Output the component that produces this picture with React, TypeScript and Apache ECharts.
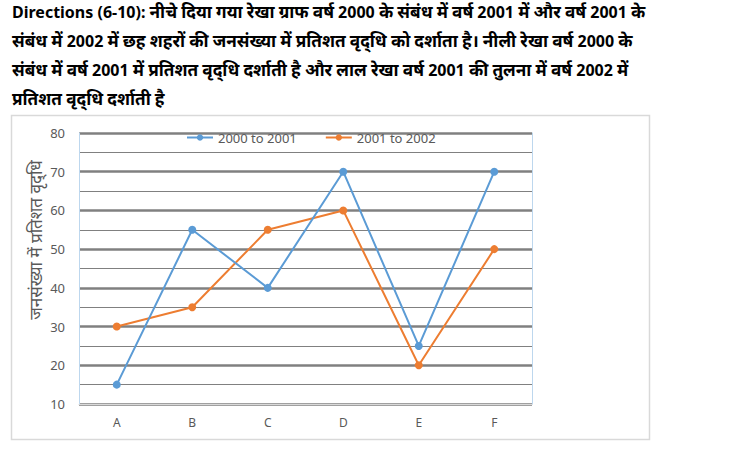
import React, { useEffect, useRef } from "react";
import * as echarts from "echarts";

const categories = ["A", "B", "C", "D", "E", "F"];
const series2000to2001 = [15, 55, 40, 70, 25, 70];
const series2001to2002 = [30, 35, 55, 60, 20, 50];
const seriesNames = ["2000 to 2001", "2001 to 2002"];
const headerLines = [
  "Directions (6-10): नीचे दिया गया रेखा ग्राफ वर्ष 2000 के संबंध में वर्ष 2001 में और वर्ष 2001 के",
  "संबंध में 2002 में छह शहरों की जनसंख्या में प्रतिशत वृद्‌धि को दर्शाता है। नीली रेखा वर्ष 2000 के",
  "संबंध में वर्ष 2001 में प्रतिशत वृद्‌धि दर्शाती है और लाल रेखा वर्ष 2001 की तुलना में वर्ष 2002 में",
  "प्रतिशत वृद्‌धि दर्शाती है",
];
const yAxisTitle = "जनसंख्या में प्रतिशत वृद्‌धि";

function toRich(line: string): string {
  const parts = line.match(/[\x00-\x7F]+|[^\x00-\x7F]+/g) || [];
  return parts
    .map((p) => (/^[\x00-\x7F]+$/.test(p) ? `{lat|${p}}` : `{dev|${p}}`))
    .join("");
}

export default function App() {
  const ref = useRef<HTMLDivElement>(null);
  useEffect(() => {
    document.body.style.margin = "0";
    const chart = echarts.init(ref.current!, null, { renderer: "svg" });
    const font = "'Noto Sans', 'DejaVu Sans', sans-serif";
    chart.setOption({
      animation: false,
      backgroundColor: "#ffffff",
      textStyle: { fontFamily: font },
      graphic: [
        {
          type: "rect",
          shape: { x: 11.5, y: 115.5, width: 638, height: 324 },
          style: { fill: "none", stroke: "#d9d9d9", lineWidth: 1.5 },
          silent: true,
        },
        ...headerLines.map((t, i) => ({
          type: "text",
          left: 12,
          top: 3 + i * 29,
          style: {
            text: toRich(t),
            fill: "#000000",
            rich: {
              lat: { fontFamily: font, fontWeight: "bold", fontSize: 16, fill: "#000" },
              dev: { fontFamily: font, fontWeight: "bold", fontSize: 17.2, fill: "#000" },
            },
          },
        })),
        {
          type: "text",
          x: 35,
          y: 240,
          rotation: Math.PI / 2,
          style: {
            text: yAxisTitle,
            align: "center",
            verticalAlign: "middle",
            fill: "#595959",
            font: `17px ${font}`,
          },
        },
      ],
      legend: {
        top: 126,
        left: 181,
        itemGap: 28,
        itemWidth: 26,
        itemHeight: 8,
        textStyle: { color: "#595959", fontSize: 13, fontFamily: font },
        data: seriesNames,
      },
      grid: { left: 79, top: 133, right: 214, bottom: 52, containLabel: false },
      xAxis: {
        type: "category",
        data: categories,
        boundaryGap: true,
        axisLine: { show: true, lineStyle: { color: "#d9d9d9", width: 1 } },
        axisTick: { show: false },
        axisLabel: { color: "#595959", fontSize: 12, margin: 12, fontFamily: font },
      },
      yAxis: [
        {
          type: "value",
          min: 10,
          max: 80,
          interval: 10,
          axisLine: { show: true, lineStyle: { color: "#bdd7ee", width: 1 } },
          axisTick: { show: false },
          axisLabel: { color: "#595959", fontSize: 13, margin: 14, fontFamily: font },
          splitLine: { show: true, lineStyle: { color: "#808080", width: 2.5 } },
        },
        {
          type: "value",
          min: 10,
          max: 80,
          interval: 5,
          position: "right",
          axisLine: { show: true, lineStyle: { color: "#bdd7ee", width: 1 } },
          axisTick: { show: false },
          axisLabel: { show: false },
          splitLine: { show: true, lineStyle: { color: "#808080", width: 1 } },
        },
      ],
      series: [
        {
          name: seriesNames[0],
          type: "line",
          data: series2000to2001,
          symbol: "circle",
          symbolSize: 8,
          itemStyle: { color: "#5b9bd5" },
          lineStyle: { color: "#5b9bd5", width: 2 },
          z: 3,
        },
        {
          name: seriesNames[1],
          type: "line",
          data: series2001to2002,
          symbol: "circle",
          symbolSize: 8,
          itemStyle: { color: "#ed7d31" },
          lineStyle: { color: "#ed7d31", width: 2 },
          z: 2,
        },
      ],
    });
    return () => chart.dispose();
  }, []);
  return (
    <div
      ref={ref}
      style={{ position: "absolute", left: 0, top: 0, width: 746, height: 456 }}
    />
  );
}
